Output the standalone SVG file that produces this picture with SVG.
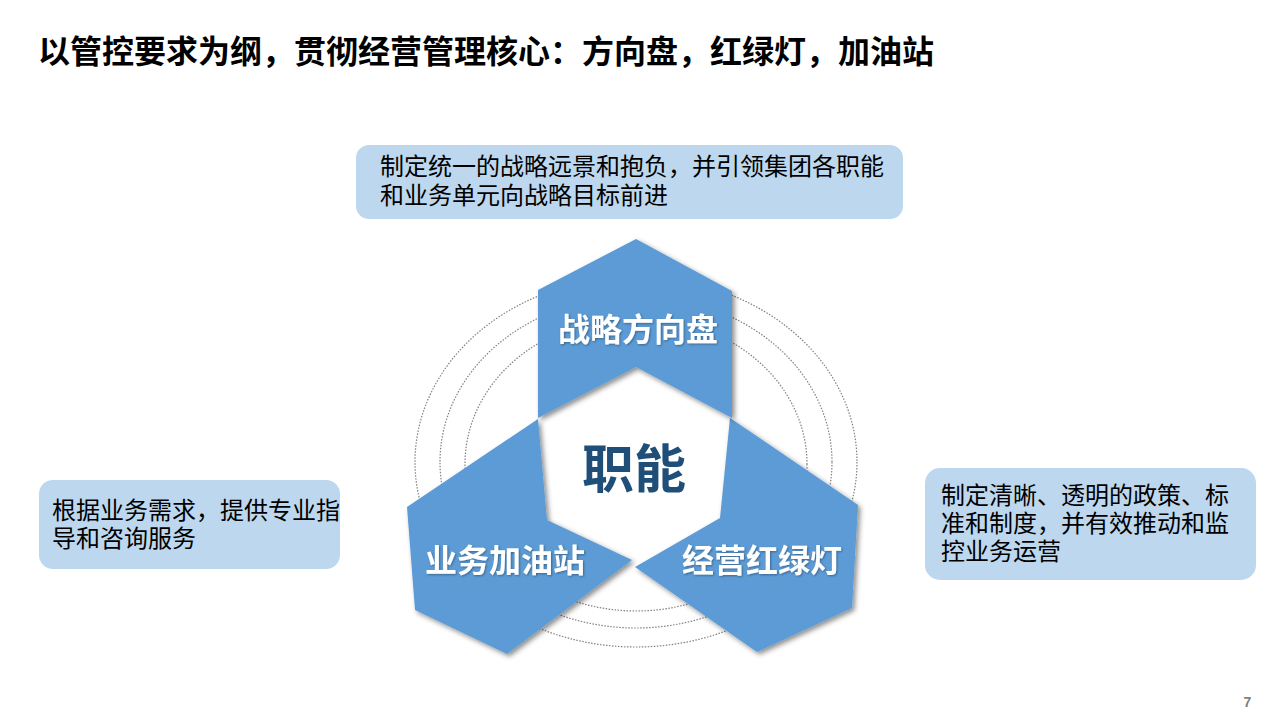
<svg xmlns="http://www.w3.org/2000/svg" width="1280" height="720" viewBox="0 0 1280 720">
<defs>
<style>
.title{font-family:"Noto Sans CJK SC","Liberation Sans",sans-serif;font-weight:700;font-size:32px;fill:#000}
.box{fill:#BDD7EE}
.boxtext{font-family:"Noto Sans CJK SC","Liberation Sans",sans-serif;font-size:24px;fill:#000}
.piece{fill:#5B9BD5}
.label{font-family:"Noto Sans CJK SC","Liberation Sans",sans-serif;font-weight:700;font-size:32px;fill:#fff;text-anchor:middle}
.core{font-family:"Noto Sans CJK SC","Liberation Sans",sans-serif;font-weight:700;font-size:52px;fill:#1F4E79;text-anchor:middle}
.ring{fill:none;stroke:#808080;stroke-width:1.2;stroke-dasharray:1.5 1.5}
.pnum{font-family:"Liberation Sans",sans-serif;font-weight:700;font-size:14px;fill:#7F7F7F;text-anchor:middle}
</style>
<filter id="sh" x="-20%" y="-20%" width="140%" height="140%">
<feDropShadow dx="2.5" dy="2.5" stdDeviation="2.5" flood-color="#000" flood-opacity="0.45"/>
</filter>
<filter id="tsh" x="-10%" y="-20%" width="120%" height="140%">
<feDropShadow dx="1" dy="1" stdDeviation="0.8" flood-color="#000" flood-opacity="0.35"/>
</filter>
</defs>
<rect width="1280" height="720" fill="#fff"/>
<text class="title" x="38" y="63">以管控要求为纲，贯彻经营管理核心：方向盘，红绿灯，加油站</text>

<g id="rings">
<ellipse class="ring" cx="636" cy="462" rx="221" ry="185"/>
<ellipse class="ring" cx="636" cy="462" rx="196" ry="166"/>
<ellipse class="ring" cx="636" cy="464" rx="171" ry="147"/>
</g>

<g id="node-left">
<polygon class="piece" filter="url(#sh)" points="538,419 407,507 415,610 507,654 632,560 547,520"/>
<text class="label" filter="url(#tsh)" x="505" y="572">业务加油站</text>
</g>
<g id="node-right">
<polygon class="piece" filter="url(#sh)" points="730,418 858,505 852,608 757,652 635,567 720,518"/>
<text class="label" filter="url(#tsh)" x="762" y="572">经营红绿灯</text>
</g>
<g id="node-top">
<polygon class="piece" filter="url(#sh)" points="636,239 732,291 732,418 636,367 538,418 538,290"/>
<text class="label" filter="url(#tsh)" x="638" y="341">战略方向盘</text>
</g>
<g id="node-core">
<text class="core" x="634" y="488">职能</text>
</g>

<g id="box-top">
<rect class="box" x="356" y="145" width="547" height="74" rx="13"/>
<text class="boxtext" x="380" y="175">制定统一的战略远景和抱负，并引领集团各职能</text>
<text class="boxtext" x="380" y="204">和业务单元向战略目标前进</text>
</g>
<g id="box-left">
<rect class="box" x="39" y="480" width="301" height="89" rx="14"/>
<text class="boxtext" x="52" y="519">根据业务需求，提供专业指</text>
<text class="boxtext" x="52" y="547">导和咨询服务</text>
</g>
<g id="box-right">
<rect class="box" x="925" y="468" width="331" height="112" rx="15"/>
<text class="boxtext" x="941" y="504">制定清晰、透明的政策、标</text>
<text class="boxtext" x="941" y="532">准和制度，并有效推动和监</text>
<text class="boxtext" x="941" y="560">控业务运营</text>
</g>
<g id="connectors"></g>
<text class="pnum" x="1247.5" y="707">7</text>
</svg>
